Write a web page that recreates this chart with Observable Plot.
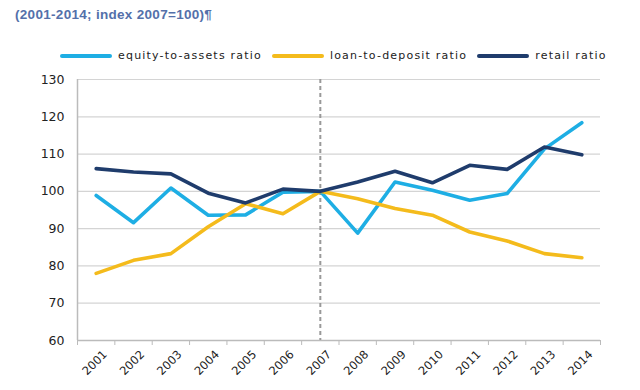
<!DOCTYPE html>
<html><head><meta charset="utf-8">
<script src="https://cdn.jsdelivr.net/npm/d3@7"></script>
<script src="https://cdn.jsdelivr.net/npm/@observablehq/plot@0.6"></script>
<style>
body{margin:0;background:#fff;width:640px;height:390px;overflow:hidden;font-family:"DejaVu Sans",sans-serif;}
#sub{position:absolute;left:15px;top:7px;font-size:13.5px;font-weight:bold;color:#5470aa;font-family:"Liberation Sans",Arial,sans-serif;letter-spacing:0.3px}
#legend{position:absolute;top:49px;left:60px;display:flex;align-items:center;font-size:11px;color:#222;white-space:nowrap;letter-spacing:1.2px}
#legend .sw{display:inline-block;width:52px;height:4px;border-radius:2px;margin-right:6px}
#legend .it{display:flex;align-items:center;margin-right:10px}
#chart{position:absolute;left:0;top:70px}
</style></head>
<body>
<div id="sub">(2001-2014; index 2007=100)¶</div>
<div id="legend"></div>
<div id="chart"></div>
<script>
const years = [2001,2002,2003,2004,2005,2006,2007,2008,2009,2010,2011,2012,2013,2014];
const equityToAssets = [98.9, 91.6, 100.9, 93.6, 93.7, 99.8, 100, 88.8, 102.5, 100.3, 97.6, 99.4, 111.4, 118.4];
const loanToDeposit = [78.0, 81.5, 83.3, 90.5, 96.7, 94.0, 100, 98.0, 95.4, 93.6, 89.1, 86.7, 83.3, 82.2];
const retailRatio = [106.1, 105.2, 104.7, 99.5, 96.9, 100.6, 100, 102.5, 105.4, 102.3, 107.0, 105.9, 111.9, 109.8];
const seriesNames = ["equity-to-assets ratio", "loan-to-deposit ratio", "retail ratio"];
const seriesColors = ["#1eaee4", "#f4bb1c", "#1f3c6c"];
const yTicks = [60,70,80,90,100,110,120,130];
const refYear = 2007;

const allSeries = [equityToAssets, loanToDeposit, retailRatio];
const data = [];
allSeries.forEach((vals, i) => vals.forEach((v, j) => data.push({year: years[j], value: v, series: seriesNames[i]})));
const boundaries = years.concat([years[years.length-1]+1]).map(y => y - 0.5);

const leg = document.getElementById("legend");
seriesNames.forEach((n, i) => {
  const it = document.createElement("span"); it.className = "it";
  const sw = document.createElement("span"); sw.className = "sw"; sw.style.background = seriesColors[i];
  it.appendChild(sw); it.appendChild(document.createTextNode(n)); leg.appendChild(it);
});

const plot = Plot.plot({
  width: 640, height: 320,
  marginLeft: 77, marginRight: 40, marginTop: 9, marginBottom: 50,
  style: {fontFamily: "DejaVu Sans, sans-serif", fontSize: "12px", color: "#222", background: "#fff"},
  x: {domain: [years[0]-0.5, years[years.length-1]+0.5]},
  y: {domain: [60, 130]},
  color: {domain: seriesNames, range: seriesColors},
  marks: [
    Plot.gridY(yTicks, {stroke: "#d4d4d4", strokeOpacity: 1, strokeWidth: 1.2}),
    Plot.axisY(yTicks, {tickSize: 0, tickPadding: 13, label: null, fontSize: 12.5, letterSpacing: 0.8}),
    Plot.ruleX([years[0]-0.5], {stroke: "#bbb", strokeWidth: 1.5}),
    Plot.ruleY([60], {stroke: "#bbb", strokeWidth: 1.5}),
    Plot.axisX(boundaries, {tickSize: 5, tickFormat: () => "", stroke: "#bbb", label: null}),
    Plot.axisX(years, {tickSize: 0, tickFormat: d => String(d), tickRotate: -45, tickPadding: 12, dx: 9, fontSize: 11.5, letterSpacing: 0.8, label: null}),
    Plot.ruleX([refYear], {stroke: "#999", strokeWidth: 2, strokeDasharray: "4,3"}),
    Plot.line(data, {x: "year", y: "value", z: "series", stroke: "series", strokeWidth: 3.6})
  ]
});
document.getElementById("chart").appendChild(plot);
</script>
</body></html>
